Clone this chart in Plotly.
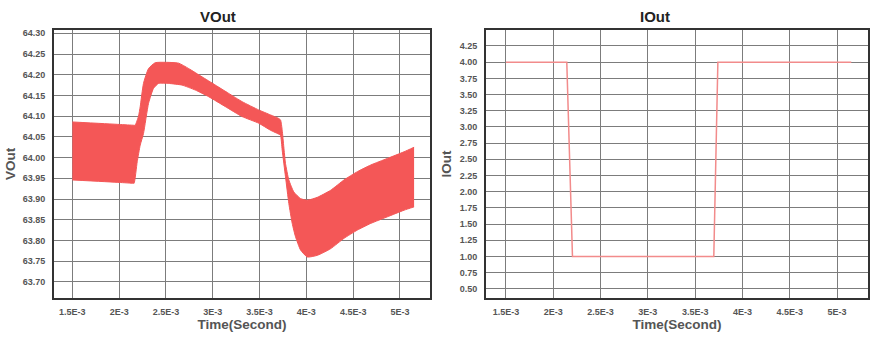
import plotly.graph_objects as go

# ---- VOut envelope (ripple band), time in seconds ----
vout_upper_t = [1.500e-3, 2.000e-3, 2.160e-3, 2.171e-3, 2.207e-3, 2.225e-3, 2.260e-3,
                2.314e-3, 2.385e-3, 2.493e-3, 2.635e-3, 2.742e-3, 2.885e-3, 3.028e-3,
                3.170e-3, 3.314e-3, 3.491e-3, 3.617e-3, 3.700e-3, 3.724e-3, 3.742e-3,
                3.759e-3, 3.777e-3, 3.813e-3, 3.866e-3, 3.938e-3, 4.010e-3, 4.117e-3,
                4.259e-3, 4.402e-3, 4.545e-3, 4.687e-3, 4.866e-3, 5.044e-3, 5.151e-3]
vout_upper_v = [64.086, 64.080, 64.078, 64.078, 64.100, 64.123, 64.179,
                64.215, 64.229, 64.230, 64.228, 64.215, 64.195, 64.175,
                64.155, 64.135, 64.115, 64.103, 64.095, 64.091, 64.066,
                64.026, 63.986, 63.946, 63.917, 63.901, 63.897, 63.904,
                63.921, 63.946, 63.966, 63.982, 63.998, 64.014, 64.025]
vout_lower_t = [1.500e-3, 2.000e-3, 2.150e-3, 2.160e-3, 2.193e-3, 2.225e-3, 2.260e-3,
                2.314e-3, 2.367e-3, 2.421e-3, 2.528e-3, 2.671e-3, 2.814e-3, 2.956e-3,
                3.135e-3, 3.314e-3, 3.491e-3, 3.617e-3, 3.710e-3, 3.724e-3, 3.742e-3,
                3.777e-3, 3.813e-3, 3.849e-3, 3.884e-3, 3.938e-3, 4.010e-3, 4.117e-3,
                4.259e-3, 4.402e-3, 4.545e-3, 4.687e-3, 4.866e-3, 5.044e-3, 5.151e-3]
vout_lower_v = [63.946, 63.940, 63.938, 63.938, 63.990, 64.030, 64.058,
                64.131, 64.167, 64.179, 64.179, 64.175, 64.163, 64.147,
                64.123, 64.099, 64.083, 64.066, 64.056, 64.054, 64.018,
                63.954, 63.889, 63.841, 63.809, 63.777, 63.760, 63.764,
                63.780, 63.805, 63.825, 63.841, 63.857, 63.873, 63.881]

# ---- IOut ----
iout_t = [1.500e-3, 2.143e-3, 2.203e-3, 3.697e-3, 3.740e-3, 5.150e-3]
iout_v = [4.0, 4.0, 1.0, 1.0, 4.0, 4.0]

x_tickvals = [1.5e-3, 2e-3, 2.5e-3, 3e-3, 3.5e-3, 4e-3, 4.5e-3, 5e-3]
x_ticktext = ["1.5E-3", "2E-3", "2.5E-3", "3E-3", "3.5E-3", "4E-3", "4.5E-3", "5E-3"]
vout_tickvals = [63.70 + 0.05 * i for i in range(13)]
iout_tickvals = [0.50 + 0.25 * i for i in range(16)]

W, H = 880, 337
FONT = "Liberation Sans"
BAND = "#f45757"
ILINE = "#f28b8b"
GRID = "#7c7c7c"
FRAME = "#333333"
TICKC = "#555555"

fig = go.Figure()

fig.add_trace(go.Scatter(x=vout_lower_t, y=vout_lower_v, mode="lines",
                         line=dict(color=BAND, width=1, shape="spline", smoothing=0.5),
                         xaxis="x", yaxis="y", showlegend=False, name="VOut min"))
fig.add_trace(go.Scatter(x=vout_upper_t, y=vout_upper_v, mode="lines",
                         fill="tonexty", fillcolor=BAND,
                         line=dict(color=BAND, width=1, shape="spline", smoothing=0.5),
                         xaxis="x", yaxis="y", showlegend=False, name="VOut max"))
fig.add_trace(go.Scatter(x=iout_t, y=iout_v, mode="lines",
                         line=dict(color=ILINE, width=1.5),
                         xaxis="x2", yaxis="y2", showlegend=False, name="IOut"))

def px_x(p):
    return p / W

def px_y(p):
    return 1 - p / H

tickfont = dict(family=FONT, size=9, color=TICKC, weight="bold")
titlefont = dict(family=FONT, size=13.5, color="#555555", weight="bold")

common_x = dict(tickvals=x_tickvals, ticktext=x_ticktext, tickfont=tickfont,
                showgrid=True, gridcolor=GRID, gridwidth=1, zeroline=False,
                showline=True, linecolor=FRAME, linewidth=2, mirror=True,
                ticks="", ticklabelstandoff=4, automargin=False,
                title=dict(text="Time(Second)", font=titlefont, standoff=1))
common_y = dict(tickfont=tickfont, tickformat=".2f",
                showgrid=True, gridcolor=GRID, gridwidth=1, zeroline=False,
                showline=True, linecolor=FRAME, linewidth=2, mirror=True,
                ticks="", ticklabelstandoff=5, automargin=False)

fig.update_layout(
    width=W, height=H,
    margin=dict(l=0, r=0, t=0, b=0),
    paper_bgcolor="white", plot_bgcolor="white",
    xaxis=dict(domain=[px_x(54), px_x(430)], range=[1.304e-3, 5.321e-3],
               anchor="y", **common_x),
    yaxis=dict(domain=[px_y(298), px_y(30)], range=[63.661, 64.308],
               tickvals=vout_tickvals, anchor="x",
               title=dict(text="VOut", font=titlefont, standoff=4), **common_y),
    xaxis2=dict(domain=[px_x(486), px_x(868)], range=[1.289e-3, 5.327e-3],
                anchor="y2", **common_x),
    yaxis2=dict(domain=[px_y(298), px_y(30)], range=[0.357, 4.497],
                tickvals=iout_tickvals, anchor="x2",
                title=dict(text="IOut", font=titlefont, standoff=5), **common_y),
    annotations=[
        dict(text="VOut", x=px_x(218), y=px_y(17), xref="paper", yref="paper",
             showarrow=False, xanchor="center", yanchor="middle",
             font=dict(family=FONT, size=15, color="#222222", weight="bold")),
        dict(text="IOut", x=px_x(655), y=px_y(17), xref="paper", yref="paper",
             showarrow=False, xanchor="center", yanchor="middle",
             font=dict(family=FONT, size=15, color="#222222", weight="bold")),
    ],
)

fig.write_html("out.html")
